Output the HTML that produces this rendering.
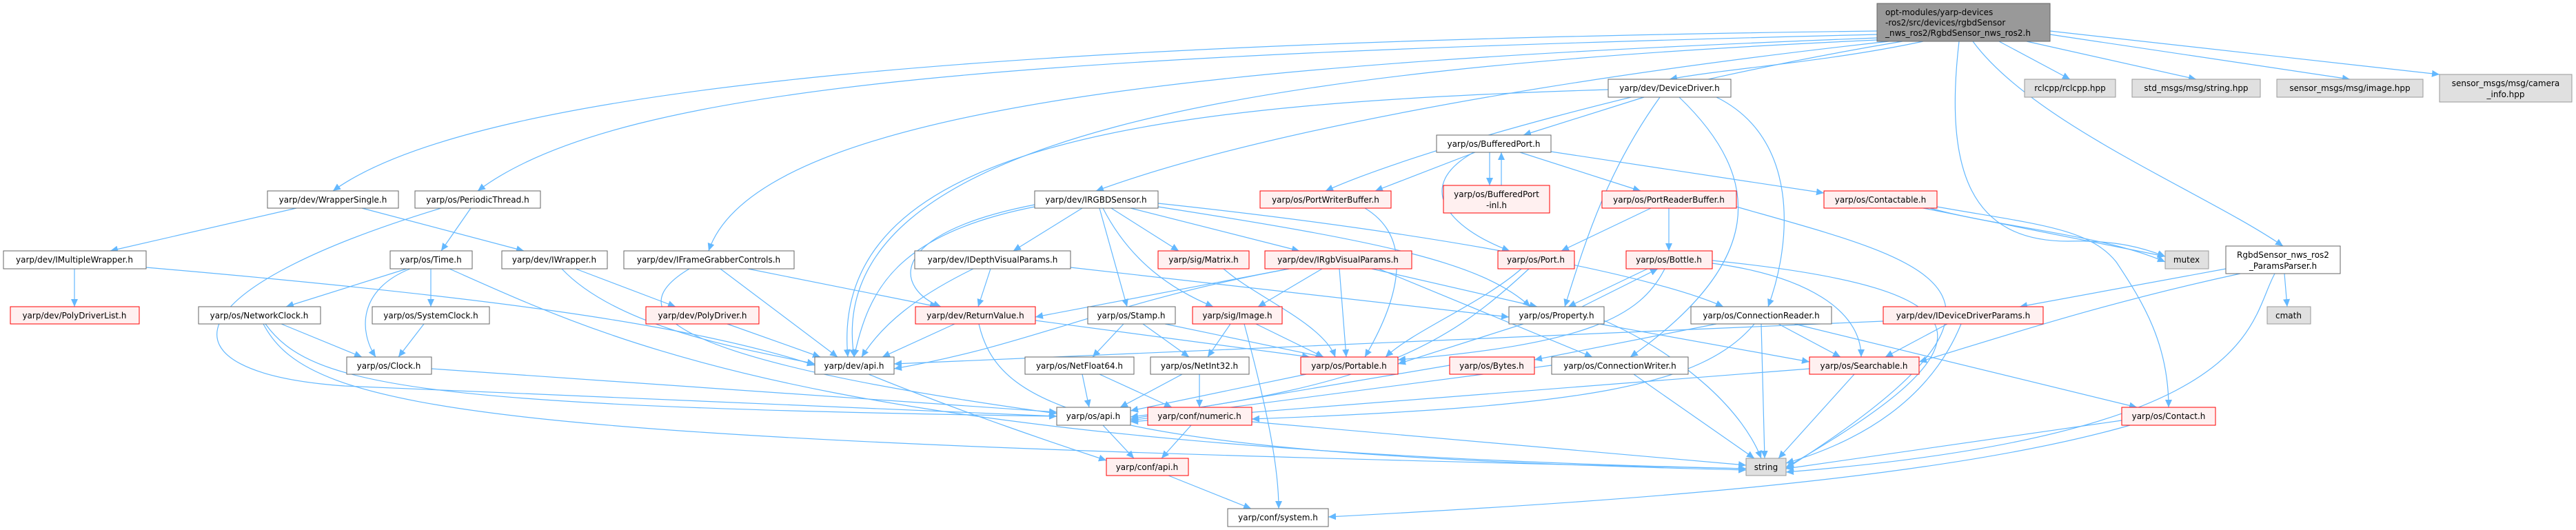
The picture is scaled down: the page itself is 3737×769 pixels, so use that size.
<!DOCTYPE html>
<html><head><meta charset="utf-8"><style>
html,body{margin:0;padding:0;background:#fff;}
svg{display:block;}
text{font-family:"DejaVu Sans","Liberation Sans",sans-serif;font-size:12px;fill:#000;}
.n rect{fill:#fff;stroke:#666;stroke-width:1;}
.r rect{fill:#fff0f0;stroke:#f00;stroke-width:1;}
.g rect{fill:#e0e0e0;stroke:#999;stroke-width:1;}
.e path{fill:none;stroke:#63b8ff;stroke-width:1.2;}
</style></head><body>
<svg width="3737" height="769" viewBox="0 0 3737 769" xmlns="http://www.w3.org/2000/svg">
<defs><marker id="a" markerUnits="userSpaceOnUse" markerWidth="12" markerHeight="10" refX="11" refY="5" orient="auto"><path d="M0,0 L11,5 L0,10 z" fill="#63b8ff"/></marker></defs>
<g class="e">
<path marker-end="url(#a)" d="M2723 45 C1500 60, 700 120, 483 277"/>
<path marker-end="url(#a)" d="M2723 50 C1500 80, 900 120, 693 277"/>
<path marker-end="url(#a)" d="M2723 55 C1800 90, 1100 150, 1028 364"/>
<path marker-end="url(#a)" d="M2723 58 C1800 100, 1190 200, 1239 518"/>
<path marker-end="url(#a)" d="M2740 60 C2200 120, 1800 200, 1590 277"/>
<path marker-end="url(#a)" d="M2760 60 C2400 120, 2050 220, 1923 277"/>
<path marker-end="url(#a)" d="M2790 60 C2650 90, 2500 100, 2422 115"/>
<path marker-end="url(#a)" d="M2900 60 L3003 115"/>
<path marker-end="url(#a)" d="M2940 60 L3186 115"/>
<path marker-end="url(#a)" d="M2974 50 L3409 115"/>
<path marker-end="url(#a)" d="M2974 45 L3539 108"/>
<path marker-end="url(#a)" d="M2862 60 C2950 180, 3200 280, 3312 357"/>
<path marker-end="url(#a)" d="M2842 60 C2820 250, 2860 350, 3000 350 C3070 348, 3110 360, 3141 372"/>
<path marker-end="url(#a)" d="M430 302 L160 364"/>
<path marker-end="url(#a)" d="M525 302 L760 364"/>
<path marker-end="url(#a)" d="M683 302 L640 364"/>
<path marker-end="url(#a)" d="M640 302 C250 420, 220 540, 500 560 L1533 604"/>
<path marker-end="url(#a)" d="M108 390 L108 445"/>
<path marker-end="url(#a)" d="M212 388 C700 430, 1000 470, 1182 530"/>
<path marker-end="url(#a)" d="M590 390 L415 445"/>
<path marker-end="url(#a)" d="M595 390 C520 420, 520 480, 545 518"/>
<path marker-end="url(#a)" d="M625 390 L625 445"/>
<path marker-end="url(#a)" d="M652 390 C900 500, 1200 650, 2533 680"/>
<path marker-end="url(#a)" d="M835 390 L980 445"/>
<path marker-end="url(#a)" d="M815 390 C900 480, 1100 510, 1182 528"/>
<path marker-end="url(#a)" d="M1045 390 L1215 518"/>
<path marker-end="url(#a)" d="M1085 390 L1360 445"/>
<path marker-end="url(#a)" d="M1000 390 C900 450, 950 520, 1533 600"/>
<path marker-end="url(#a)" d="M408 470 L525 518"/>
<path marker-end="url(#a)" d="M385 470 C450 560, 600 590, 1533 604"/>
<path marker-end="url(#a)" d="M382 470 C450 600, 700 640, 2533 680"/>
<path marker-end="url(#a)" d="M615 470 L578 518"/>
<path marker-end="url(#a)" d="M626 535 L1533 598"/>
<path marker-end="url(#a)" d="M1055 470 L1190 518"/>
<path marker-end="url(#a)" d="M1501 300 C1300 340, 1260 420, 1239 518"/>
<path marker-end="url(#a)" d="M1501 297 C1280 340, 1300 420, 1365 445"/>
<path marker-end="url(#a)" d="M1570 302 L1470 364"/>
<path marker-end="url(#a)" d="M1595 302 L1635 445"/>
<path marker-end="url(#a)" d="M1600 302 C1640 380, 1700 420, 1760 445"/>
<path marker-end="url(#a)" d="M1612 302 L1710 364"/>
<path marker-end="url(#a)" d="M1640 302 L1885 364"/>
<path marker-end="url(#a)" d="M1680 300 C2000 350, 2150 380, 2220 445"/>
<path marker-end="url(#a)" d="M1680 295 C2100 340, 2400 400, 2500 445"/>
<path marker-end="url(#a)" d="M1437 390 L1419 445"/>
<path marker-end="url(#a)" d="M1412 390 C1330 430, 1280 470, 1250 518"/>
<path marker-end="url(#a)" d="M1553 388 L2189 460"/>
<path marker-end="url(#a)" d="M1775 390 C1820 430, 1920 470, 1937 518"/>
<path marker-end="url(#a)" d="M1870 390 L1502 460"/>
<path marker-end="url(#a)" d="M1870 390 C1600 440, 1500 500, 1297 535"/>
<path marker-end="url(#a)" d="M1918 390 L1825 445"/>
<path marker-end="url(#a)" d="M1943 390 L1953 518"/>
<path marker-end="url(#a)" d="M1990 390 L2230 445"/>
<path marker-end="url(#a)" d="M2000 390 L2310 518"/>
<path marker-end="url(#a)" d="M1385 470 L1280 518"/>
<path marker-end="url(#a)" d="M1502 465 L1900 518"/>
<path marker-end="url(#a)" d="M1420 470 C1450 600, 1600 660, 2533 682"/>
<path marker-end="url(#a)" d="M1630 470 L1585 518"/>
<path marker-end="url(#a)" d="M1658 470 L1725 518"/>
<path marker-end="url(#a)" d="M1690 470 L1920 518"/>
<path marker-end="url(#a)" d="M1785 470 L1752 518"/>
<path marker-end="url(#a)" d="M1822 470 L1920 518"/>
<path marker-end="url(#a)" d="M1805 470 C1840 600, 1855 680, 1855 738"/>
<path marker-end="url(#a)" d="M1260 543 C1400 600, 1550 650, 1605 668"/>
<path marker-end="url(#a)" d="M1570 543 L1580 591"/>
<path marker-end="url(#a)" d="M1595 543 L1700 591"/>
<path marker-end="url(#a)" d="M1715 543 L1625 591"/>
<path marker-end="url(#a)" d="M1740 543 L1740 591"/>
<path marker-end="url(#a)" d="M1895 543 L1640 596"/>
<path marker-end="url(#a)" d="M1600 617 L1645 665"/>
<path marker-end="url(#a)" d="M1728 617 L1685 665"/>
<path marker-end="url(#a)" d="M1816 612 L2533 675"/>
<path marker-end="url(#a)" d="M1695 690 L1815 738"/>
<path marker-end="url(#a)" d="M2385 141 L2210 196"/>
<path marker-end="url(#a)" d="M2408 141 C2330 250, 2300 350, 2270 445"/>
<path marker-end="url(#a)" d="M2490 141 C2610 200, 2600 350, 2565 445"/>
<path marker-end="url(#a)" d="M2436 141 C2560 260, 2560 380, 2365 518"/>
<path marker-end="url(#a)" d="M2333 130 C1700 150, 1200 200, 1230 518"/>
<path marker-end="url(#a)" d="M2161 221 L2161 269"/>
<path marker-end="url(#a)" d="M2178 269 L2178 221"/>
<path marker-end="url(#a)" d="M2205 221 L2380 277"/>
<path marker-end="url(#a)" d="M2250 220 L2646 280"/>
<path marker-end="url(#a)" d="M2138 221 C2050 270, 2100 330, 2190 364"/>
<path marker-end="url(#a)" d="M2140 221 L1995 277"/>
<path marker-end="url(#a)" d="M1980 302 C2060 350, 2020 450, 1980 518"/>
<path marker-end="url(#a)" d="M2395 302 L2265 364"/>
<path marker-end="url(#a)" d="M2421 302 L2421 364"/>
<path marker-end="url(#a)" d="M2519 300 C2800 380, 3000 420, 2591 680"/>
<path marker-end="url(#a)" d="M2790 302 L3141 372"/>
<path marker-end="url(#a)" d="M2800 302 C2900 330, 3050 340, 3141 380"/>
<path marker-end="url(#a)" d="M2810 300 C2950 325, 3030 330, 3070 380 C3110 440, 3146 500, 3146 591"/>
<path marker-end="url(#a)" d="M2207 390 C2150 440, 2050 480, 2010 518"/>
<path marker-end="url(#a)" d="M2218 390 C2100 500, 2000 560, 1640 605"/>
<path marker-end="url(#a)" d="M2390 390 L2275 445"/>
<path marker-end="url(#a)" d="M2295 445 L2405 390"/>
<path marker-end="url(#a)" d="M2415 390 C2380 460, 2300 500, 2028 522"/>
<path marker-end="url(#a)" d="M2484 382 C2620 400, 2700 450, 2700 518"/>
<path marker-end="url(#a)" d="M2484 378 C2900 420, 2900 500, 2591 678"/>
<path marker-end="url(#a)" d="M2210 470 L2028 528"/>
<path marker-end="url(#a)" d="M2320 470 L2625 525"/>
<path marker-end="url(#a)" d="M2327 465 C2450 520, 2530 600, 2555 665"/>
<path marker-end="url(#a)" d="M2490 470 L2226 522"/>
<path marker-end="url(#a)" d="M2580 470 L2670 518"/>
<path marker-end="url(#a)" d="M2555 470 L2560 665"/>
<path marker-end="url(#a)" d="M2545 470 C2470 560, 2300 590, 1816 608"/>
<path marker-end="url(#a)" d="M2603 470 L3100 591"/>
<path marker-end="url(#a)" d="M2825 470 L2735 518"/>
<path marker-end="url(#a)" d="M2845 470 C2800 580, 2700 640, 2591 672"/>
<path marker-end="url(#a)" d="M2732 466 L1297 528"/>
<path marker-end="url(#a)" d="M2103 530 L1640 608"/>
<path marker-end="url(#a)" d="M2251 530 L1640 610"/>
<path marker-end="url(#a)" d="M2370 543 L2545 665"/>
<path marker-end="url(#a)" d="M2690 543 L2580 665"/>
<path marker-end="url(#a)" d="M2625 535 L1640 612"/>
<path marker-end="url(#a)" d="M3078 610 L2591 680"/>
<path marker-end="url(#a)" d="M3090 617 C2800 700, 2300 730, 1927 750"/>
<path marker-end="url(#a)" d="M3229 390 L2930 445"/>
<path marker-end="url(#a)" d="M3250 397 C3050 440, 2900 490, 2784 525"/>
<path marker-end="url(#a)" d="M3300 397 C3260 470, 3280 630, 2591 685"/>
<path marker-end="url(#a)" d="M3314 397 L3318 445"/>
</g>

<g class="g"><rect x="2723" y="5" width="251" height="55" style="fill:#999;stroke:#666"/></g>
<text x="2735" y="22">opt-modules/yarp-devices</text>
<text x="2735" y="37">-ros2/src/devices/rgbdSensor</text>
<text x="2735" y="52">_nws_ros2/RgbdSensor_nws_ros2.h</text>

<g class="n">
<rect x="388" y="277" width="190" height="25"/>
<rect x="602" y="277" width="182" height="25"/>
<rect x="5" y="364" width="207" height="26"/>
<rect x="566" y="364" width="119" height="26"/>
<rect x="728" y="364" width="153" height="26"/>
<rect x="905" y="364" width="247" height="26"/>
<rect x="288" y="445" width="177" height="25"/>
<rect x="540" y="445" width="170" height="25"/>
<rect x="503" y="518" width="123" height="25"/>
<rect x="1501" y="277" width="179" height="25"/>
<rect x="1327" y="364" width="226" height="26"/>
<rect x="1578" y="445" width="127" height="25"/>
<rect x="1182" y="518" width="115" height="25"/>
<rect x="1487" y="518" width="158" height="25"/>
<rect x="1669" y="518" width="143" height="25"/>
<rect x="1533" y="591" width="107" height="26"/>
<rect x="1781" y="738" width="146" height="26"/>
<rect x="2333" y="115" width="178" height="26"/>
<rect x="2084" y="196" width="166" height="25"/>
<rect x="2189" y="445" width="138" height="25"/>
<rect x="2453" y="445" width="204" height="25"/>
<rect x="2251" y="518" width="198" height="25"/>
<rect x="3229" y="357" width="166" height="40"/>
</g>
<g class="r">
<rect x="15" y="445" width="187" height="25"/>
<rect x="937" y="445" width="164" height="25"/>
<rect x="1828" y="277" width="190" height="25"/>
<rect x="1680" y="364" width="132" height="26"/>
<rect x="1835" y="364" width="213" height="26"/>
<rect x="1328" y="445" width="174" height="25"/>
<rect x="1730" y="445" width="130" height="25"/>
<rect x="1887" y="518" width="141" height="25"/>
<rect x="1665" y="591" width="151" height="26"/>
<rect x="1605" y="665" width="119" height="25"/>
<rect x="2094" y="269" width="154" height="40"/>
<rect x="2324" y="277" width="195" height="25"/>
<rect x="2646" y="277" width="164" height="25"/>
<rect x="2173" y="364" width="111" height="26"/>
<rect x="2359" y="364" width="125" height="26"/>
<rect x="2732" y="445" width="232" height="25"/>
<rect x="2103" y="518" width="123" height="25"/>
<rect x="2625" y="518" width="159" height="25"/>
<rect x="3078" y="591" width="136" height="26"/>
</g>
<g class="g">
<rect x="2533" y="665" width="58" height="25"/>
<rect x="2937" y="115" width="132" height="26"/>
<rect x="3093" y="115" width="186" height="26"/>
<rect x="3303" y="115" width="212" height="26"/>
<rect x="3539" y="108" width="192" height="40"/>
<rect x="3141" y="364" width="63" height="26"/>
<rect x="3289" y="445" width="63" height="25"/>
</g>

<g text-anchor="middle">
<text x="483" y="294">yarp/dev/WrapperSingle.h</text>
<text x="693" y="294">yarp/os/PeriodicThread.h</text>
<text x="108" y="381">yarp/dev/IMultipleWrapper.h</text>
<text x="625" y="381">yarp/os/Time.h</text>
<text x="804" y="381">yarp/dev/IWrapper.h</text>
<text x="1028" y="381">yarp/dev/IFrameGrabberControls.h</text>
<text x="376" y="462">yarp/os/NetworkClock.h</text>
<text x="625" y="462">yarp/os/SystemClock.h</text>
<text x="564" y="535">yarp/os/Clock.h</text>
<text x="1590" y="294">yarp/dev/IRGBDSensor.h</text>
<text x="1440" y="381">yarp/dev/IDepthVisualParams.h</text>
<text x="1641" y="462">yarp/os/Stamp.h</text>
<text x="1239" y="535">yarp/dev/api.h</text>
<text x="1566" y="535">yarp/os/NetFloat64.h</text>
<text x="1740" y="535">yarp/os/NetInt32.h</text>
<text x="1586" y="608">yarp/os/api.h</text>
<text x="1854" y="755">yarp/conf/system.h</text>
<text x="2422" y="132">yarp/dev/DeviceDriver.h</text>
<text x="2167" y="213">yarp/os/BufferedPort.h</text>
<text x="2258" y="462">yarp/os/Property.h</text>
<text x="2555" y="462">yarp/os/ConnectionReader.h</text>
<text x="2350" y="535">yarp/os/ConnectionWriter.h</text>
<text x="3312" y="374">RgbdSensor_nws_ros2</text>
<text x="3312" y="390">_ParamsParser.h</text>
<text x="108" y="462">yarp/dev/PolyDriverList.h</text>
<text x="1019" y="462">yarp/dev/PolyDriver.h</text>
<text x="1923" y="294">yarp/os/PortWriterBuffer.h</text>
<text x="1746" y="381">yarp/sig/Matrix.h</text>
<text x="1941" y="381">yarp/dev/IRgbVisualParams.h</text>
<text x="1415" y="462">yarp/dev/ReturnValue.h</text>
<text x="1795" y="462">yarp/sig/Image.h</text>
<text x="1957" y="535">yarp/os/Portable.h</text>
<text x="1740" y="608">yarp/conf/numeric.h</text>
<text x="1664" y="682">yarp/conf/api.h</text>
<text x="2171" y="286">yarp/os/BufferedPort</text>
<text x="2171" y="302">-inl.h</text>
<text x="2421" y="294">yarp/os/PortReaderBuffer.h</text>
<text x="2728" y="294">yarp/os/Contactable.h</text>
<text x="2228" y="381">yarp/os/Port.h</text>
<text x="2421" y="381">yarp/os/Bottle.h</text>
<text x="2848" y="462">yarp/dev/IDeviceDriverParams.h</text>
<text x="2164" y="535">yarp/os/Bytes.h</text>
<text x="2704" y="535">yarp/os/Searchable.h</text>
<text x="3146" y="608">yarp/os/Contact.h</text>
<text x="2562" y="682">string</text>
<text x="3003" y="132">rclcpp/rclcpp.hpp</text>
<text x="3186" y="132">std_msgs/msg/string.hpp</text>
<text x="3409" y="132">sensor_msgs/msg/image.hpp</text>
<text x="3635" y="125">sensor_msgs/msg/camera</text>
<text x="3635" y="141">_info.hpp</text>
<text x="3172" y="381">mutex</text>
<text x="3320" y="462">cmath</text>
</g>
</svg>
</body></html>
